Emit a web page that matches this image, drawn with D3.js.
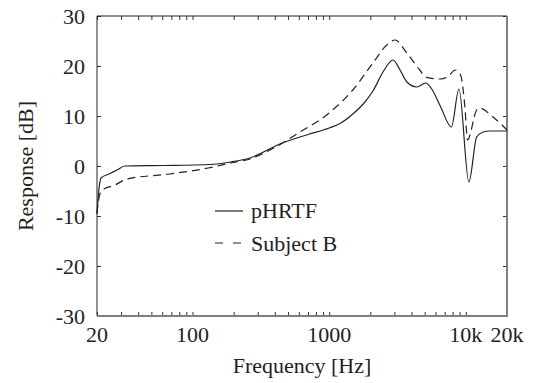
<!DOCTYPE html>
<html>
<head>
<meta charset="utf-8">
<script src="https://cdn.jsdelivr.net/npm/d3@7/dist/d3.min.js"></script>
<style>
  html, body { margin: 0; padding: 0; background: #fff; }
  svg text { font-family: "Liberation Serif", "DejaVu Serif", serif; fill: #222; }
</style>
</head>
<body>
<svg id="chart" width="539" height="383"></svg>
<script>
// pHRTF response, [frequency Hz, dB]
const phrtf = [
  [20, -9.5], [20.6, -5], [21.4, -2.4], [24.5, -1.6], [28, -0.8], [32, 0],
  [60, 0.1], [134, 0.3], [190, 0.8], [263, 1.6], [436, 4.4], [700, 6.3],
  [1000, 7.6], [1200, 8.5], [1490, 10.4], [1800, 12.6], [2090, 15.0],
  [2500, 19.0], [2930, 21.2], [3300, 19.2], [3700, 16.8], [4380, 15.8],
  [5080, 16.6], [5600, 15.5], [6500, 12], [7840, 7.8], [8900, 15.4],
  [10520, -3.2], [12000, 5.8], [13360, 6.8], [15000, 7.0], [20000, 7.0]
];

// Subject B response, [frequency Hz, dB]
const subjectB = [
  [20, -9.5], [20.5, -7], [21.3, -5.2], [22.5, -4.6], [26.6, -3.9], [33.2, -2.6],
  [68, -1.6], [130, -0.4], [190, 0.6], [263, 1.4], [400, 3.7], [612, 6.8],
  [1000, 10.6], [1060, 11.2], [1490, 15.2], [2090, 20.6], [2640, 24.2],
  [3030, 25.2], [3700, 22.6], [4600, 19.2], [5080, 17.8], [6480, 17.4],
  [7500, 18], [8330, 19.2], [9140, 18.2], [9880, 11.2], [10270, 5.2],
  [12000, 11.2], [12560, 11.6], [15800, 9.8], [20000, 7.2]
];

const xLabelTicks = [20, 100, 1000, 10000, 20000];
const xLabelText = ['20', '100', '1000', '10k', '20k'];
const yTicks = [-30, -20, -10, 0, 10, 20, 30];

const svg = d3.select('#chart');
const pLeft = 97, pRight = 507, pTop = 16, pBottom = 316;
const FONT = '"Liberation Serif", "DejaVu Serif", serif';

const x = d3.scaleLog().domain([20, 20000]).range([pLeft, pRight]);
const y = d3.scaleLinear().domain([-30, 30]).range([pBottom, pTop]);

const minorTicks = x.ticks();

// inward tick marks
function ticksOnly(g) {
  g.select('.domain').remove();
  g.selectAll('text').remove();
  g.selectAll('line').attr('stroke', '#333').attr('stroke-width', 1);
}
svg.append('g').attr('transform', `translate(0,${pBottom})`)
  .call(d3.axisBottom(x).tickValues(minorTicks).tickSize(-4)).call(ticksOnly);
svg.append('g').attr('transform', `translate(0,${pTop})`)
  .call(d3.axisTop(x).tickValues(minorTicks).tickSize(-4)).call(ticksOnly);
svg.append('g').attr('transform', `translate(${pLeft},0)`)
  .call(d3.axisLeft(y).tickValues(yTicks).tickSize(-4)).call(ticksOnly);
svg.append('g').attr('transform', `translate(${pRight},0)`)
  .call(d3.axisRight(y).tickValues(yTicks).tickSize(-4)).call(ticksOnly);

// frame: top/left dark, bottom/right grey
svg.append('line').attr('x1', pLeft).attr('x2', pRight).attr('y1', pTop).attr('y2', pTop)
  .attr('stroke', '#222').attr('stroke-width', 1);
svg.append('line').attr('x1', pLeft).attr('x2', pLeft).attr('y1', pTop).attr('y2', pBottom)
  .attr('stroke', '#222').attr('stroke-width', 1);
svg.append('line').attr('x1', pLeft).attr('x2', pRight + 1).attr('y1', pBottom).attr('y2', pBottom)
  .attr('stroke', '#808080').attr('stroke-width', 2);
svg.append('line').attr('x1', pRight).attr('x2', pRight).attr('y1', pTop).attr('y2', pBottom)
  .attr('stroke', '#808080').attr('stroke-width', 2);

// tick labels
svg.append('g').selectAll('text').data(xLabelTicks).join('text')
  .attr('x', d => x(d)).attr('y', 342)
  .attr('text-anchor', 'middle').attr('font-size', 22).attr('font-family', FONT)
  .text((d, i) => xLabelText[i]);

svg.append('g').selectAll('text').data(yTicks).join('text')
  .attr('x', 85).attr('y', d => y(d)).attr('dy', '0.35em')
  .attr('text-anchor', 'end').attr('font-size', 22).attr('font-family', FONT)
  .text(d => String(d));

// axis titles
svg.append('text').attr('x', (pLeft + pRight) / 2).attr('y', 373)
  .attr('text-anchor', 'middle').attr('font-size', 22).attr('font-family', FONT)
  .text('Frequency [Hz]');
svg.append('text').attr('transform', `translate(33,${(pTop + pBottom) / 2}) rotate(-90)`)
  .attr('text-anchor', 'middle').attr('font-size', 22).attr('font-family', FONT)
  .text('Response [dB]');

// curves
const line = d3.line().x(d => x(d[0])).y(d => y(d[1])).curve(d3.curveMonotoneX);

svg.append('path').datum(subjectB).attr('d', line)
  .attr('fill', 'none').attr('stroke', '#222').attr('stroke-width', 1.2)
  .attr('stroke-dasharray', '8,5');
svg.append('path').datum(phrtf).attr('d', line)
  .attr('fill', 'none').attr('stroke', '#222').attr('stroke-width', 1.2);

// legend
const legend = svg.append('g');
legend.append('line').attr('x1', 215).attr('x2', 243).attr('y1', 211).attr('y2', 211)
  .attr('stroke', '#222').attr('stroke-width', 1.2);
legend.append('text').attr('x', 251).attr('y', 218).attr('font-size', 22)
  .attr('font-family', FONT).text('pHRTF');
legend.append('line').attr('x1', 215).attr('x2', 241).attr('y1', 243).attr('y2', 243)
  .attr('stroke', '#222').attr('stroke-width', 1.2).attr('stroke-dasharray', '8,10');
legend.append('text').attr('x', 251).attr('y', 251).attr('font-size', 22)
  .attr('font-family', FONT).text('Subject B');
</script>
</body>
</html>
